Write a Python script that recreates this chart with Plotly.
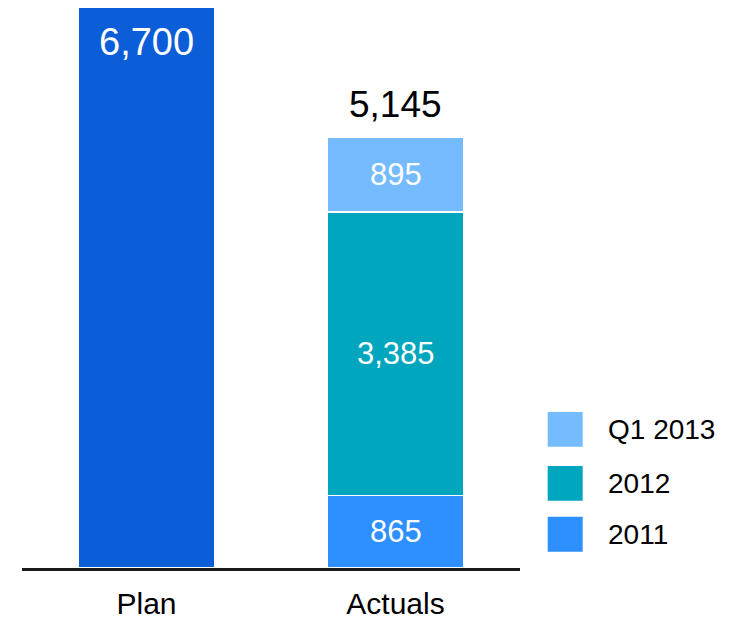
import plotly.graph_objects as go

# Categories and values
categories = ["Plan", "Actuals"]
plan_value = 6700
series_names = ["2011", "2012", "Q1 2013"]
actual_values = [865, 3385, 895]
series_colors = ["#2E90FF", "#00A6BE", "#74BBFF"]
plan_color = "#0B5ED7"

FONT = "Liberation Sans, Arial, sans-serif"

fig = go.Figure()

# Plan bar
fig.add_trace(go.Bar(
    x=[categories[0]], y=[plan_value], width=0.55,
    marker=dict(color=plan_color, line=dict(color="white", width=1.5)),
    showlegend=False, hoverinfo="skip",
))

# Stacked actuals
for name, val, col in zip(series_names, actual_values, series_colors):
    fig.add_trace(go.Bar(
        x=[categories[1]], y=[val], width=0.55, name=name,
        marker=dict(color=col, line=dict(color="white", width=1.5)),
        showlegend=False, hoverinfo="skip",
    ))

annotations = []
# Plan value label inside the top of the bar
annotations.append(dict(
    x=categories[0], y=plan_value, text=f"{plan_value:,}", showarrow=False,
    yanchor="middle", yshift=-35, font=dict(family=FONT, size=38, color="white"),
))
# Segment labels at the middle of each segment
base = 0
for val in actual_values:
    annotations.append(dict(
        x=categories[1], y=base + val / 2, text=f"{val:,}", showarrow=False,
        yanchor="middle", font=dict(family=FONT, size=31, color="white"),
    ))
    base += val
# Total above the stack
total = sum(actual_values)
annotations.append(dict(
    x=categories[1], y=total, text=f"{total:,}", showarrow=False,
    yanchor="middle", yshift=33, font=dict(family=FONT, size=37, color="black"),
))

# Legend drawn as squares with labels, top to bottom
shapes = []
legend_rows = [("Q1 2013", series_colors[2], 0.2136, 0.2746),
               ("2012", series_colors[1], 0.1185, 0.1796),
               ("2011", series_colors[0], 0.0287, 0.0903)]
for label, col, y0, y1 in legend_rows:
    shapes.append(dict(type="rect", xref="paper", yref="paper",
                       x0=1.0556, x1=1.1259, y0=y0, y1=y1,
                       fillcolor=col, line=dict(width=0)))
    annotations.append(dict(
        xref="paper", yref="paper", x=1.1727, y=(y0 + y1) / 2,
        text=label, showarrow=False, xanchor="left", yanchor="middle",
        font=dict(family=FONT, size=28, color="black"),
    ))

fig.update_layout(
    barmode="stack",
    width=734, height=623,
    margin=dict(l=22, r=214, t=0, b=55),
    plot_bgcolor="white", paper_bgcolor="white",
    showlegend=False,
    annotations=annotations, shapes=shapes,
    xaxis=dict(
        type="category", range=[-0.5, 1.5], automargin=False,
        showline=True, linecolor="#1a1a1a", linewidth=2.5,
        ticks="", showgrid=False, zeroline=False,
        tickfont=dict(family=FONT, size=30, color="black"),
        ticklabelstandoff=7,
    ),
    yaxis=dict(
        range=[0, 6784], visible=False, showgrid=False, zeroline=False,
    ),
)

fig.write_html("out.html")
